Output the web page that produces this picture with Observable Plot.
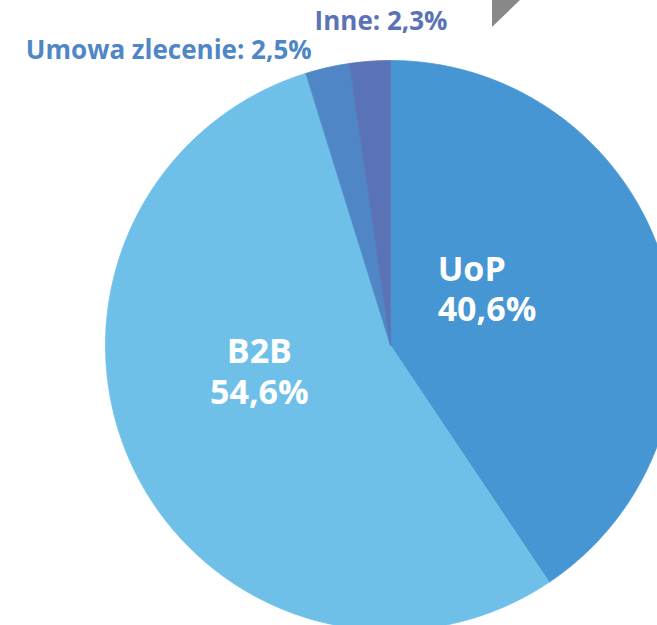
<!DOCTYPE html>
<html>
<head>
<meta charset="utf-8">
<script src="https://cdn.jsdelivr.net/npm/d3@7"></script>
<script src="https://cdn.jsdelivr.net/npm/@observablehq/plot@0.6"></script>
<style>
  html, body { margin: 0; padding: 0; background: #fff; }
  #wrap { position: relative; width: 657px; height: 625px; overflow: hidden; }
  #corner { position: absolute; left: 492px; top: 0; width: 0; height: 0;
    border-top: 27px solid #888888; border-right: 28px solid transparent; }
</style>
</head>
<body>
<div id="wrap"><div id="chart"></div><div id="corner"></div></div>
<script>
// Data
const categories = ["UoP", "B2B", "Umowa zlecenie", "Inne"];
const shares = [40.6, 54.6, 2.5, 2.3];
const shareLabels = ["40,6%", "54,6%", "2,5%", "2,3%"];
const colors = ["#4596d3", "#6fc0e8", "#4f86c6", "#5a73b6"];
const labelColors = ["#ffffff", "#ffffff", "#4f86c6", "#5a73b6"];

// Layout (label placement along slice mid-angle)
const inside = [true, true, false, false];
const labelRadius = [0.36, 0.51, 1.06, 1.14];
const labelDx = [-51, 0, -12, 14];
const nameDy = [-46, -56, 0, 0];
const valueDy = [-6, -15, 0, 0];
const labelAnchor = ["start", "middle", "end", "middle"];

const total = d3.sum(shares);
let acc = 0;
const slices = categories.map((name, i) => {
  const a0 = (acc / total) * 2 * Math.PI;
  acc += shares[i];
  const a1 = (acc / total) * 2 * Math.PI;
  return {name, a0, a1, i};
});

const pts = [];
for (const s of slices) {
  pts.push({name: s.name, x: 0, y: 0});
  const n = Math.max(2, Math.ceil((s.a1 - s.a0) / 0.005));
  for (let k = 0; k <= n; k++) {
    const t = s.a0 + (s.a1 - s.a0) * k / n;
    pts.push({name: s.name, x: Math.sin(t), y: Math.cos(t)});
  }
  pts.push({name: s.name, x: 0, y: 0});
}

const labels = slices.map(s => {
  const m = (s.a0 + s.a1) / 2, r = labelRadius[s.i];
  return {name: s.name, x: r * Math.sin(m), y: r * Math.cos(m), i: s.i};
});

const textMarks = [];
for (const d of labels) {
  if (inside[d.i]) {
    textMarks.push(Plot.text([d], {
      x: "x", y: "y", text: () => d.name,
      fill: labelColors[d.i], fontSize: 34, fontWeight: "bold",
      textAnchor: labelAnchor[d.i], dx: labelDx[d.i], dy: nameDy[d.i]
    }));
    textMarks.push(Plot.text([d], {
      x: "x", y: "y", text: () => shareLabels[d.i],
      fill: labelColors[d.i], fontSize: 34, fontWeight: "bold",
      textAnchor: labelAnchor[d.i], dx: labelDx[d.i], dy: valueDy[d.i]
    }));
  } else {
    textMarks.push(Plot.text([d], {
      x: "x", y: "y", text: () => `${d.name}: ${shareLabels[d.i]}`,
      fill: labelColors[d.i], fontSize: 26, fontWeight: "bold",
      textAnchor: labelAnchor[d.i], dx: labelDx[d.i], dy: nameDy[d.i]
    }));
  }
}

const chart = Plot.plot({
  width: 657,
  height: 625,
  margin: 0,
  style: {fontFamily: "'Open Sans', sans-serif", background: "transparent", overflow: "hidden"},
  x: {domain: [-1, 1], range: [105, 675], axis: null},
  y: {domain: [-1, 1], range: [630, 60], axis: null},
  color: {domain: categories, range: colors},
  marks: [
    Plot.line(pts, {x: "x", y: "y", z: "name", fill: "name", stroke: "name", strokeWidth: 0.8, curve: "linear"}),
    ...textMarks
  ]
});
document.getElementById("chart").appendChild(chart);
</script>
</body>
</html>
